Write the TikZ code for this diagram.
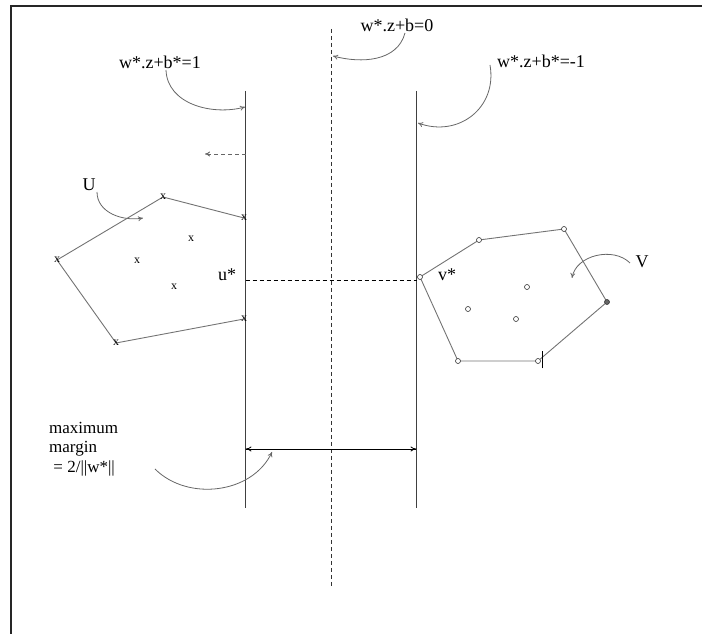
\documentclass[tikz,border=0pt]{standalone}
\usepackage{fontspec}
\setmainfont{Liberation Serif}
\usetikzlibrary{arrows.meta}
\begin{document}
\begin{tikzpicture}[x=1pt,y=1pt,
  lbl/.style={inner sep=0pt,font=\fontsize{18}{20}\selectfont},
  mainline/.style={draw=black!75,line width=1pt},
  hull/.style={draw=black!55,line width=0.9pt},
  pointer/.style={draw=black!60,line width=0.8pt,-{To[length=5pt,width=5pt]}},
  xmark/.style={inner sep=0pt,font=\fontsize{12}{12}\selectfont},
  omark/.style={circle,draw=black!80,line width=0.6pt,inner sep=0pt,minimum size=5pt},
  tick/.style={draw=black,line width=0.7pt}]
\useasboundingbox (0,0) rectangle (702,634);
% frame
\coordinate (f1) at (11,0);
\coordinate (f2) at (11,628);
\coordinate (f3) at (702,628);
\draw[black!85,line width=1.2pt] (f1) -- (f2) -- (f3);
% hyperplanes
\coordinate (mt) at (331.5,605); \coordinate (mb) at (331.5,46);
\coordinate (lt) at (245.5,543); \coordinate (lb) at (245.5,126);
\coordinate (rt) at (416.5,543); \coordinate (rb) at (416.5,126);
\draw[black!80,line width=0.9pt,dash pattern=on 4pt off 3pt] (mt) -- (mb);
\draw[mainline] (lt) -- (lb);
\draw[mainline] (rt) -- (rb);
% margin arrow
\coordinate (ma) at (245.5,185); \coordinate (mz) at (416.5,185);
\draw[black,line width=0.8pt,{To[length=6pt,width=5pt]}-{To[length=6pt,width=5pt]}] (ma) -- (mz);
% small dashed arrow
\coordinate (da) at (245.5,480); \coordinate (dz) at (205,480);
\draw[black!60,line width=0.9pt,dash pattern=on 4pt off 3pt,-{To[length=5pt,width=5pt]}] (da) -- (dz);
% dashed u*-v*
\coordinate (ua) at (245.5,354); \coordinate (va) at (416.5,354);
\draw[black,line width=0.7pt,dash pattern=on 4pt off 3pt] (ua) -- (va);
% labels
\node[lbl] (l0) at (397,609) {w*.z+b=0};
\node[lbl] (l1) at (160,572) {w*.z+b*=1};
\node[lbl] (l2) at (541,573) {w*.z+b*=-1};
\node[lbl] (lU) at (89,449) {U};
\node[lbl] (lu) at (227,359) {u*};
\node[lbl] (lv) at (447,359) {v*};
\node[lbl] (lV) at (642,372) {V};
\node[lbl,align=left,anchor=west,font=\fontsize{17}{19.5}\selectfont] (lm) at (49,185) {maximum\\margin\\\ = 2/||w*||};
% pointer curves
\coordinate (t0) at (333,578);
\coordinate (t1) at (245,527);
\coordinate (t2) at (418,511);
\coordinate (tU) at (143,416);
\coordinate (tV) at (572,356);
\coordinate (tm) at (272,182);
\coordinate (s0) at (405,601);
\coordinate (s1) at (166,564);
\coordinate (s2) at (490,569);
\coordinate (sU) at (97,442);
\coordinate (sV) at (630,371);
\coordinate (sm) at (155,165);
\draw[pointer] (s0) to[out=-105,in=-15] (t0);
\draw[pointer] (s1) to[out=-88,in=195] (t1);
\draw[pointer] (s2) to[out=-80,in=-20,looseness=1.2] (t2);
\draw[pointer] (sU) to[out=-90,in=190] (tU);
\draw[pointer] (sV) to[out=135,in=80] (tV);
\draw[pointer] (sm) to[out=-45,in=-115] (tm);
% U hull
\coordinate (A) at (57,374);
\coordinate (B) at (163,437);
\coordinate (C) at (244,416);
\coordinate (D) at (244,315);
\coordinate (E) at (116,291);
\draw[hull] (A) -- (B) -- (C);
\draw[hull] (D) -- (E) -- (A);
\foreach \p in {A,B,C,D,E} \node[xmark] at (\p) {x};
\node[xmark] (x1) at (191,395) {x};
\node[xmark] (x2) at (137,373) {x};
\node[xmark] (x3) at (174,347) {x};
% V hull
\coordinate (P1) at (420,357);
\coordinate (P2) at (479,394);
\coordinate (P3) at (564,405);
\coordinate (P4) at (607,332);
\coordinate (P5) at (538,273);
\coordinate (P6) at (458,273);
\draw[hull] (P1) -- (P2) -- (P3) -- (P4) -- (P5) -- (P6) -- cycle;
\foreach \p in {P1,P2,P3,P5,P6} \node[omark,fill=white] at (\p) {};
\node[omark,fill=black!60] at (P4) {};
\node[omark] (o1) at (527,347) {};
\node[omark] (o2) at (468,325) {};
\node[omark] (o3) at (516,315) {};
\coordinate (k1) at (542.7,265.5);
\coordinate (k2) at (542.7,282.5);
\draw[tick] (k1) -- (k2);
\end{tikzpicture}
\end{document}
